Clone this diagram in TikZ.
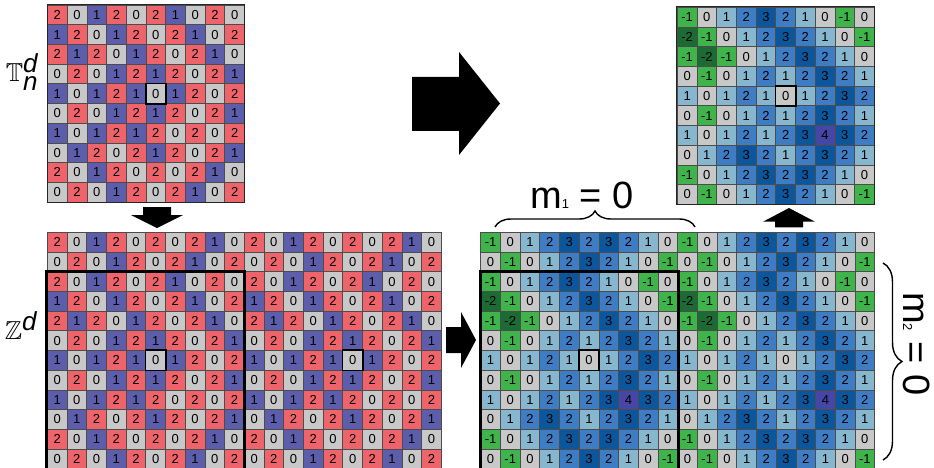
\documentclass[tikz,border=0pt]{standalone}
\usepackage{amssymb}
\usepackage{fontspec}
\setmainfont{Liberation Sans}
\usetikzlibrary{decorations.pathreplacing}

\definecolor{tc2}{RGB}{200,200,200}
\definecolor{tc3}{RGB}{92,94,172}
\definecolor{tc4}{RGB}{239,100,106}
\definecolor{hc0}{RGB}{28,106,52}
\definecolor{hc1}{RGB}{62,180,74}
\definecolor{hc2}{RGB}{200,200,200}
\definecolor{hc3}{RGB}{134,183,206}
\definecolor{hc4}{RGB}{62,124,196}
\definecolor{hc5}{RGB}{12,86,156}
\definecolor{hc6}{RGB}{70,70,166}

\def\torusdata{{2,0,1,2,0,2,1,0,2,0},{1,2,0,1,2,0,2,1,0,2},{2,1,2,0,1,2,0,2,1,0},{0,2,0,1,2,1,2,0,2,1},{1,0,1,2,1,0,1,2,0,2},{0,2,0,1,2,1,2,0,2,1},{1,0,1,2,1,2,0,2,0,2},{0,1,2,0,2,1,2,0,2,1},{2,0,1,2,0,2,0,2,1,0},{0,2,0,1,2,0,2,1,0,2}}
\def\torustail{{2,0,1,2,0,2,0,2,1,0},{0,2,0,1,2,0,2,1,0,2}}
\def\heightdata{{-1,0,1,2,3,2,1,0,-1,0},{-2,-1,0,1,2,3,2,1,0,-1},{-1,-2,-1,0,1,2,3,2,1,0},{0,-1,0,1,2,1,2,3,2,1},{1,0,1,2,1,0,1,2,3,2},{0,-1,0,1,2,1,2,3,2,1},{1,0,1,2,1,2,3,4,3,2},{0,1,2,3,2,1,2,3,2,1},{-1,0,1,2,3,2,3,2,1,0},{0,-1,0,1,2,3,2,1,0,-1}}
\def\heighttail{{-1,0,1,2,3,2,3,2,1,0},{0,-1,0,1,2,3,2,1,0,-1}}

\newcommand{\drawcells}[5]{%
  \foreach \row [count=\r from 0] in #5 {
    \foreach \v [count=\c from 0] in \row {
      \pgfmathtruncatemacro{\k}{\v+2}
      \node[cell, fill=#3\k] (#4-\r-\c) at ({#1+(\c+0.5)*19.7},{#2+(\r+0.5)*19.7}) {\v};
    }
  }
}

\begin{document}
\begin{tikzpicture}[x=1pt,y=-1pt,
  cell/.style={draw=black!70, line width=0.7pt, minimum size=19.7pt, inner sep=0pt, font=\fontsize{13}{13}\selectfont},
  centre/.style={draw=black, line width=1.8pt},
  frame/.style={draw=black, line width=3pt},
  edge/.style={draw=black!85, line width=1pt},
  bigtext/.style={font=\fontsize{38}{38}\selectfont, inner sep=0pt},
  mathlab/.style={font=\fontsize{26}{26}\selectfont, inner sep=0pt},
  brace/.style={decorate, line width=1.4pt}]
\useasboundingbox (0,0) rectangle (934,468);

\drawcells{47.5}{5}{tc}{tn}{\torusdata}
\drawcells{47.3}{232.3}{tc}{za}{\torustail}
\drawcells{47.3}{271.7}{tc}{zb}{\torusdata}
\drawcells{244.3}{232.3}{tc}{zc}{\torustail}
\drawcells{244.3}{271.7}{tc}{zd}{\torusdata}

\drawcells{677.3}{7.3}{hc}{hn}{\heightdata}
\drawcells{480.7}{232.3}{hc}{ha}{\heighttail}
\drawcells{480.7}{271.7}{hc}{hb}{\heightdata}
\drawcells{677.7}{232.3}{hc}{hc}{\heighttail}
\drawcells{677.7}{271.7}{hc}{hd}{\heightdata}

\draw[edge] (tn-0-0.north west) rectangle (tn-9-9.south east);
\draw[edge] (hn-0-0.north west) rectangle (hn-9-9.south east);

\draw[centre] (tn-4-5.south west) rectangle (tn-4-5.north east);
\draw[centre] (zb-4-5.south west) rectangle (zb-4-5.north east);
\draw[centre] (zd-4-5.south west) rectangle (zd-4-5.north east);
\draw[centre] (hn-4-5.south west) rectangle (hn-4-5.north east);
\draw[centre] (hb-4-5.south west) rectangle (hb-4-5.north east);

\draw[frame] (zb-0-0.north west) rectangle (zb-9-9.south east);
\draw[frame] (hb-0-0.north west) rectangle (hb-9-9.south east);

\node[mathlab] (tlab) at (22,72) {$\mathbb{T}^{\textit{d}}_{\textit{n}}$};
\node[mathlab] (zlab) at (21,326) {$\mathbb{Z}^{\textit{d}}$};

\fill (412,77) -- (459,77) -- (459,52) -- (500,103.5) -- (459,155) -- (459,131) -- (412,131) -- cycle;
\fill (143,207) -- (171,207) -- (171,215) -- (183,215) -- (157,228) -- (131,215) -- (143,215) -- cycle;
\fill (446,327) -- (461,327) -- (461,312) -- (476,340) -- (461,368) -- (461,353) -- (446,353) -- cycle;
\fill (775,227.3) -- (775,221.7) -- (763,221.7) -- (789,208) -- (815,221.7) -- (803,221.7) -- (803,227.3) -- cycle;

\coordinate (bl) at (495,227);
\coordinate (br) at (695,227);
\draw[brace, decoration={brace, amplitude=16pt}] (bl) -- (br);
\node[bigtext, anchor=base] (mone) at (582,208) {m{\fontsize{13}{13}\selectfont 1} = 0};

\coordinate (bt) at (883,263);
\coordinate (bb) at (883,460);
\draw[brace, decoration={brace, amplitude=19pt}] (bt) -- (bb);
\node[bigtext, rotate=-90, anchor=base] (mtwo) at (903,344) {m{\fontsize{13}{13}\selectfont 2} = 0};
\end{tikzpicture}
\end{document}
